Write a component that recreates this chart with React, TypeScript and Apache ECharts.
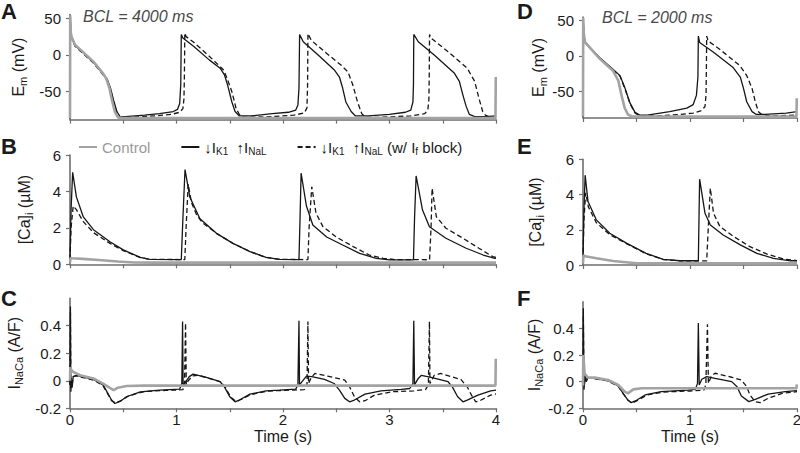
import React, { useEffect, useRef } from 'react';
import * as echarts from 'echarts';

// ---------- labels ----------
const NAMES = ['Control', '↓IK1 ↑INaL', '↓IK1 ↑INaL (w/ If block)'];
const BCL_LABELS = ['BCL = 4000 ms', 'BCL = 2000 ms'];
const PANEL_LETTERS = ['A', 'B', 'C', 'D', 'E', 'F'];
const EM_TICKS = [-50, 0, 50];
const CA_TICKS = [0, 2, 4, 6];
const NCX_TICKS = [-0.2, 0, 0.2, 0.4];
const TIME_LABELS_LONG = [0, 1, 2, 3, 4];
const TIME_LABELS_SHORT = [0, 1, 2];

type P = [number, number][];

// ---------- Panel A : Em (mV), BCL 4000 ms ----------
const A_CTRL: P = [[0, -86], [0.002, 54], [0.008, 30], [0.016, 24], [0.047, 14], [0.1, 7], [0.22, -9], [0.31, -25], [0.34, -32], [0.37, -45], [0.39, -59], [0.42, -77], [0.45, -85], [0.5, -86], [3.995, -86], [3.998, -30]];
const A_SOLID: P = [[0, -86], [0.002, 52], [0.008, 30], [0.016, 23], [0.047, 13], [0.1, 6], [0.22, -10], [0.31, -26], [0.35, -33], [0.38, -45], [0.41, -62], [0.44, -77], [0.47, -84], [0.52, -84], [0.7, -82], [0.84, -80], [0.97, -77], [1.01, -74], [1.03, -66], [1.04, -40], [1.045, 28], [1.06, 23], [1.16, 12], [1.31, -7], [1.41, -18], [1.45, -27], [1.48, -41], [1.52, -64], [1.55, -77], [1.59, -83], [1.7, -83], [1.9, -80], [2.05, -78], [2.12, -75], [2.14, -68], [2.15, -45], [2.156, 28], [2.19, 18], [2.33, 0], [2.48, -20], [2.53, -30], [2.56, -45], [2.59, -64], [2.64, -77], [2.68, -83], [2.8, -83], [3.0, -81], [3.15, -78], [3.2, -75], [3.22, -64], [3.225, -40], [3.228, 28], [3.27, 18], [3.42, 0], [3.61, -25], [3.656, -36], [3.69, -55], [3.72, -70], [3.75, -81], [3.8, -84], [3.9, -84], [4.0, -83]];
const A_DASHED: P = [[0, -86], [0.002, 52], [0.008, 30], [0.016, 22], [0.047, 12], [0.1, 5], [0.22, -11], [0.31, -27], [0.35, -35], [0.38, -48], [0.41, -64], [0.44, -78], [0.47, -85], [0.55, -85], [0.8, -83], [0.95, -81], [1.03, -78], [1.06, -73], [1.07, -60], [1.074, -30], [1.078, 30], [1.09, 25], [1.156, 18], [1.31, -2], [1.44, -20], [1.47, -30], [1.52, -50], [1.56, -73], [1.59, -81], [1.63, -85], [1.9, -84], [2.1, -82], [2.2, -79], [2.225, -72], [2.231, -40], [2.234, 29], [2.266, 20], [2.39, 4.5], [2.547, -14], [2.61, -23], [2.656, -41], [2.7, -64], [2.74, -80], [2.78, -85], [2.9, -85], [3.2, -83], [3.33, -80], [3.36, -75], [3.37, -60], [3.373, -30], [3.376, 28], [3.39, 23], [3.55, 4.5], [3.73, -18], [3.8, -36], [3.84, -59], [3.875, -77], [3.9, -82], [3.95, -85], [4.0, -85]];

// ---------- Panel B : [Ca]i (uM), BCL 4000 ms ----------
const B_CTRL: P = [[0, 0.1], [0.005, 0.35], [0.02, 0.33], [0.12, 0.3], [0.3, 0.22], [0.45, 0.15], [0.6, 0.1], [0.8, 0.09], [4, 0.09]];
const B_SOLID: P = [[0, 0.25], [0.01, 3], [0.025, 5.05], [0.06, 3.7], [0.125, 2.6], [0.22, 1.9], [0.375, 1.24], [0.5, 0.79], [0.66, 0.38], [0.75, 0.27], [1.045, 0.26], [1.06, 2.5], [1.08, 5.2], [1.125, 3.7], [1.22, 2.5], [1.375, 1.7], [1.53, 1.15], [1.69, 0.7], [1.84, 0.38], [1.97, 0.27], [2.15, 0.26], [2.16, 2.5], [2.17, 5.0], [2.22, 3.2], [2.28, 2.16], [2.41, 1.5], [2.56, 1.06], [2.72, 0.6], [2.875, 0.33], [3.0, 0.24], [3.225, 0.24], [3.235, 2.5], [3.25, 4.85], [3.31, 2.98], [3.375, 2.06], [3.53, 1.43], [3.72, 0.88], [3.88, 0.51], [3.99, 0.33], [4.0, 0.32]];
const B_DASHED: P = [[0, 0.25], [0.01, 2], [0.03, 3.2], [0.06, 3.0], [0.125, 2.34], [0.22, 1.74], [0.375, 1.15], [0.5, 0.75], [0.66, 0.37], [0.75, 0.27], [1.078, 0.26], [1.09, 2.0], [1.11, 4.4], [1.14, 3.4], [1.19, 2.7], [1.25, 2.25], [1.375, 1.7], [1.53, 1.15], [1.69, 0.7], [1.84, 0.38], [1.97, 0.27], [2.234, 0.26], [2.245, 2.0], [2.27, 4.26], [2.31, 2.8], [2.375, 2.07], [2.5, 1.5], [2.66, 0.97], [2.81, 0.51], [2.94, 0.33], [3.05, 0.26], [3.376, 0.25], [3.39, 2], [3.4, 4.17], [3.44, 2.61], [3.53, 1.98], [3.69, 1.43], [3.84, 0.88], [3.97, 0.42], [4.0, 0.38]];

// ---------- Panel C : INaCa (A/F), BCL 4000 ms ----------
const C_CTRL: P = [[0, 0], [0.003, 0.1], [0.01, 0.08], [0.03, 0.065], [0.094, 0.04], [0.22, 0.017], [0.31, -0.02], [0.37, -0.05], [0.41, -0.068], [0.45, -0.05], [0.53, -0.038], [0.69, -0.035], [3.995, -0.035], [3.998, 0.16]];
const C_SOLID: P = [[0, -0.03], [0.004, 0.54], [0.008, -0.08], [0.014, 0.0], [0.02, -0.05], [0.03, 0.03], [0.06, 0.04], [0.22, 0.01], [0.31, -0.03], [0.34, -0.07], [0.39, -0.14], [0.42, -0.165], [0.47, -0.15], [0.53, -0.116], [0.66, -0.08], [0.84, -0.068], [1.03, -0.06], [1.05, -0.02], [1.057, 0.43], [1.062, -0.03], [1.075, -0.02], [1.12, 0.03], [1.156, 0.048], [1.28, 0.024], [1.41, -0.007], [1.45, -0.044], [1.5, -0.116], [1.55, -0.153], [1.59, -0.14], [1.69, -0.097], [1.84, -0.073], [1.97, -0.068], [2.12, -0.06], [2.14, -0.03], [2.15, 0.436], [2.155, -0.03], [2.19, 0.005], [2.22, 0.034], [2.27, 0.03], [2.39, 0.01], [2.48, -0.02], [2.53, -0.068], [2.58, -0.128], [2.625, -0.153], [2.67, -0.14], [2.77, -0.097], [2.92, -0.073], [3.11, -0.063], [3.19, -0.056], [3.22, -0.02], [3.228, 0.436], [3.235, -0.03], [3.27, 0.017], [3.3, 0.04], [3.39, 0.024], [3.55, -0.007], [3.59, -0.044], [3.64, -0.116], [3.69, -0.153], [3.73, -0.14], [3.83, -0.104], [3.95, -0.073], [4.0, -0.068]];
const C_DASHED: P = [[0, -0.03], [0.004, 0.5], [0.008, -0.06], [0.014, 0.02], [0.02, -0.03], [0.03, 0.03], [0.06, 0.035], [0.22, 0.005], [0.31, -0.035], [0.34, -0.075], [0.39, -0.145], [0.43, -0.16], [0.48, -0.145], [0.55, -0.11], [0.7, -0.078], [0.9, -0.07], [1.06, -0.065], [1.075, -0.03], [1.085, 0.42], [1.092, -0.03], [1.11, 0.0], [1.15, 0.035], [1.2, 0.04], [1.3, 0.02], [1.42, -0.01], [1.46, -0.05], [1.51, -0.12], [1.56, -0.15], [1.6, -0.138], [1.7, -0.1], [1.85, -0.075], [2.0, -0.07], [2.2, -0.065], [2.225, -0.04], [2.234, 0.43], [2.24, -0.02], [2.266, 0.025], [2.3, 0.053], [2.42, 0.034], [2.58, 0.005], [2.625, -0.044], [2.67, -0.116], [2.72, -0.153], [2.77, -0.145], [2.86, -0.104], [3.02, -0.08], [3.23, -0.073], [3.34, -0.063], [3.365, -0.03], [3.375, 0.43], [3.38, -0.02], [3.42, 0.04], [3.48, 0.053], [3.67, 0.01], [3.73, -0.044], [3.77, -0.104], [3.81, -0.153], [3.86, -0.14], [3.95, -0.104], [4.0, -0.095]];

// ---------- Panel D : Em (mV), BCL 2000 ms ----------
const D_CTRL: P = [[0, -86], [0.002, 54], [0.008, 30], [0.02, 19], [0.16, -4.6], [0.28, -21], [0.33, -35], [0.36, -56], [0.39, -74], [0.42, -83], [0.46, -86], [1.995, -86], [1.998, -60]];
const D_SOLID: P = [[0, -86], [0.002, 52], [0.008, 30], [0.02, 19], [0.16, -3], [0.28, -19], [0.346, -28], [0.393, -46], [0.44, -67], [0.486, -80], [0.53, -84], [0.6, -84], [0.81, -79], [0.97, -74], [1.03, -69], [1.06, -56], [1.074, -30], [1.078, 28], [1.09, 19], [1.22, 5], [1.4, -16], [1.47, -30], [1.5, -46], [1.53, -65], [1.58, -79], [1.62, -83], [1.7, -83], [1.9, -81], [2.0, -79]];
const D_DASHED: P = [[0, -86], [0.002, 52], [0.008, 30], [0.02, 19], [0.16, -4], [0.28, -20], [0.346, -29], [0.393, -47], [0.44, -68], [0.486, -81], [0.53, -85], [0.7, -85], [0.9, -83], [1.03, -81], [1.1, -78], [1.14, -72], [1.15, -55], [1.153, -20], [1.156, 28], [1.17, 21], [1.28, 9], [1.467, -14], [1.53, -28], [1.58, -46], [1.61, -65], [1.64, -79], [1.67, -83], [1.75, -85], [2.0, -84]];

// ---------- Panel E : [Ca]i (uM), BCL 2000 ms ----------
const E_CTRL: P = [[0, 0.1], [0.004, 0.55], [0.02, 0.5], [0.125, 0.38], [0.28, 0.23], [0.5, 0.1], [0.7, 0.09], [2, 0.09]];
const E_SOLID: P = [[0, 0.25], [0.008, 3], [0.02, 5.1], [0.047, 3.6], [0.125, 2.56], [0.25, 1.8], [0.41, 1.23], [0.59, 0.66], [0.75, 0.32], [0.906, 0.24], [1.078, 0.24], [1.085, 3], [1.09, 4.87], [1.14, 2.94], [1.19, 2.27], [1.31, 1.7], [1.47, 1.14], [1.625, 0.66], [1.78, 0.38], [1.94, 0.24], [2, 0.24]];
const E_DASHED: P = [[0, 0.25], [0.008, 2.5], [0.025, 4.1], [0.05, 3.3], [0.125, 2.4], [0.25, 1.72], [0.41, 1.2], [0.59, 0.64], [0.75, 0.31], [0.906, 0.24], [1.156, 0.23], [1.17, 2], [1.19, 4.36], [1.22, 2.94], [1.28, 2.18], [1.41, 1.61], [1.56, 1.04], [1.72, 0.62], [1.875, 0.34], [2, 0.25]];

// ---------- Panel F : INaCa (A/F), BCL 2000 ms ----------
const F_CTRL: P = [[0, -0.03], [0.003, 0.2], [0.015, 0.06], [0.047, 0.03], [0.11, 0.03], [0.234, 0.013], [0.33, -0.025], [0.39, -0.075], [0.42, -0.088], [0.47, -0.058], [0.55, -0.05], [1.995, -0.05], [1.998, -0.02]];
const F_SOLID: P = [[0, -0.03], [0.003, 0.55], [0.009, -0.06], [0.022, 0.05], [0.03, 0.0], [0.047, 0.03], [0.234, 0.008], [0.33, -0.033], [0.375, -0.088], [0.42, -0.138], [0.45, -0.158], [0.5, -0.14], [0.58, -0.1], [0.73, -0.075], [0.98, -0.063], [1.05, -0.058], [1.07, -0.013], [1.078, 0.44], [1.086, -0.025], [1.11, 0.018], [1.156, 0.038], [1.234, 0.025], [1.39, 0.0], [1.44, -0.038], [1.48, -0.108], [1.55, -0.15], [1.61, -0.133], [1.73, -0.093], [1.89, -0.075], [2, -0.068]];
const F_DASHED: P = [[0, -0.03], [0.003, 0.5], [0.009, -0.04], [0.022, 0.04], [0.03, 0.01], [0.047, 0.03], [0.234, 0.005], [0.33, -0.036], [0.375, -0.09], [0.42, -0.14], [0.46, -0.16], [0.51, -0.14], [0.6, -0.1], [0.75, -0.078], [1.0, -0.07], [1.13, -0.063], [1.148, -0.025], [1.163, 0.43], [1.172, -0.013], [1.2, 0.043], [1.234, 0.063], [1.39, 0.033], [1.48, 0.013], [1.53, -0.038], [1.56, -0.1], [1.61, -0.15], [1.656, -0.158], [1.73, -0.125], [1.86, -0.088], [2, -0.075]];

const PANEL_DATA: P[][] = [
  [A_CTRL, A_SOLID, A_DASHED],
  [B_CTRL, B_SOLID, B_DASHED],
  [C_CTRL, C_SOLID, C_DASHED],
  [D_CTRL, D_SOLID, D_DASHED],
  [E_CTRL, E_SOLID, E_DASHED],
  [F_CTRL, F_SOLID, F_DASHED],
];

const FONT = '"Liberation Sans", Arial, Helvetica, sans-serif';
const AXIS_COLOR = '#6e6e6e';
const TEXT_COLOR = '#1a1a1a';
const GREY = '#a3a3a3';
const BLACK = '#161616';

const SUB_RICH = {
  n: { fontSize: 16, lineHeight: 20, color: TEXT_COLOR, fontFamily: FONT, fontWeight: 'normal' },
  s: { fontSize: 11, lineHeight: 11, verticalAlign: 'bottom', color: TEXT_COLOR, fontFamily: FONT, fontWeight: 'normal' },
};

// layout (pixels)
const GRIDS = [
  { left: 70, top: 14.6, width: 426, height: 105 },
  { left: 70, top: 155, width: 426, height: 109.3 },
  { left: 70, top: 298.2, width: 426, height: 110.1 },
  { left: 583, top: 17, width: 214, height: 101 },
  { left: 583, top: 159.3, width: 214, height: 105.7 },
  { left: 583, top: 301.7, width: 214, height: 106.6 },
];

const Y_CFG = [
  { min: -88, max: 55, ticks: EM_TICKS, name: '{n|E}{s|m}{n| (mV)}', gap: 36 },
  { min: 0, max: 6, ticks: CA_TICKS, name: '{n|[Ca]}{s|i}{n| (µM)}', gap: 36 },
  { min: -0.2, max: 0.6, ticks: NCX_TICKS, name: '{n|I}{s|NaCa}{n| (A/F)}', gap: 36 },
  { min: -88, max: 55, ticks: EM_TICKS, name: '{n|E}{s|m}{n| (mV)}', gap: 31 },
  { min: 0, max: 6, ticks: CA_TICKS, name: '{n|[Ca]}{s|i}{n| (µM)}', gap: 38 },
  { min: -0.2, max: 0.6, ticks: NCX_TICKS, name: '{n|I}{s|NaCa}{n| (A/F)}', gap: 33 },
];

export default function App() {
  const ref = useRef<HTMLDivElement>(null);
  useEffect(() => {
    if (!ref.current) return;
    const chart = echarts.init(ref.current, null, { renderer: 'svg' });

    const grid = GRIDS.map((g) => ({ ...g, containLabel: false, outerBoundsMode: 'none' }));

    const xAxis = GRIDS.map((_, i) => {
      const long = i < 3;
      const bottomRow = i === 2 || i === 5;
      return {
        type: 'value',
        gridIndex: i,
        min: 0,
        max: long ? 4 : 2,
        interval: 0.5,
        splitLine: { show: false },
        axisLine: { show: true, onZero: false, lineStyle: { color: AXIS_COLOR, width: 1.6 } },
        axisTick: { show: true, inside: false, length: 4, lineStyle: { color: AXIS_COLOR, width: 1.2 } },
        axisLabel: {
          show: bottomRow,
          customValues: long ? TIME_LABELS_LONG : TIME_LABELS_SHORT,
          fontSize: 15,
          color: TEXT_COLOR,
          fontFamily: FONT,
          fontWeight: 'normal',
          margin: 4,
        },
        name: bottomRow ? 'Time (s)' : '',
        nameLocation: 'middle',
        nameGap: 17,
        nameTextStyle: { fontSize: 16, color: TEXT_COLOR, fontFamily: FONT, fontWeight: 'normal', verticalAlign: 'top' },
      };
    });

    const yAxis = Y_CFG.map((c, i) => ({
      type: 'value',
      gridIndex: i,
      min: c.min,
      max: c.max,
      splitLine: { show: false },
      axisLine: { show: true, onZero: false, lineStyle: { color: AXIS_COLOR, width: 1.6 } },
      axisTick: { show: true, inside: false, length: 4, customValues: c.ticks, lineStyle: { color: AXIS_COLOR, width: 1.2 } },
      axisLabel: {
        customValues: c.ticks,
        fontSize: 15,
        color: TEXT_COLOR,
        fontFamily: FONT,
        fontWeight: 'normal',
        margin: 9,
        formatter: (v: number) => String(Math.round(v * 10) / 10),
      },
      name: c.name,
      nameLocation: 'middle',
      nameRotate: 90,
      nameGap: c.gap,
      nameTextStyle: { rich: SUB_RICH, fontSize: 16, color: TEXT_COLOR, fontFamily: FONT, fontWeight: 'normal' },
    }));

    const series: any[] = [];
    PANEL_DATA.forEach((trio, i) => {
      series.push({
        type: 'line', name: NAMES[2], data: trio[2], xAxisIndex: i, yAxisIndex: i,
        symbol: 'none', showSymbol: false, silent: true, z: 2,
        lineStyle: { color: BLACK, width: 1.3, type: [5, 3] }, itemStyle: { color: BLACK },
      });
      series.push({
        type: 'line', name: NAMES[1], data: trio[1], xAxisIndex: i, yAxisIndex: i,
        symbol: 'none', showSymbol: false, silent: true, z: 3,
        lineStyle: { color: BLACK, width: 1.3, type: 'solid' }, itemStyle: { color: BLACK },
      });
      series.push({
        type: 'line', name: NAMES[0], data: trio[0], xAxisIndex: i, yAxisIndex: i,
        symbol: 'none', showSymbol: false, silent: true, z: 4,
        lineStyle: { color: GREY, width: 2.6 }, itemStyle: { color: GREY },
      });
    });

    const legendRich = {
      s: { fontSize: 10, lineHeight: 10, verticalAlign: 'bottom', fontFamily: FONT, fontWeight: 'normal' },
    };

    const letterTexts = PANEL_LETTERS.map((L, i) => {
      const pos = [[1, 12], [1, 147], [1, 299], [517, 12], [517, 147], [517, 299]][i];
      return {
        type: 'text', left: pos[0], top: pos[1] - 12,
        style: { text: L, fontSize: 22, fontWeight: 'bold', fill: '#1a1a1a', fontFamily: FONT },
      };
    });

    chart.setOption({
      animation: false,
      backgroundColor: '#ffffff',
      textStyle: { fontFamily: FONT, fontWeight: 'normal' },
      grid,
      xAxis,
      yAxis,
      legend: {
        left: 78,
        top: 138,
        itemWidth: 18,
        itemHeight: 10,
        itemGap: 30,
        padding: 0,
        selectedMode: false,
        itemStyle: { opacity: 0, borderWidth: 0 },
        data: [
          { name: NAMES[0], textStyle: { color: '#9a9a9a' } },
          { name: NAMES[1] },
          { name: NAMES[2] },
        ],
        formatter: (name: string) => {
          if (name === NAMES[0]) return name;
          if (name === NAMES[1]) return '↓I{s|K1}  ↑I{s|NaL}';
          return '↓I{s|K1}  ↑I{s|NaL} (w/ I{s|f} block)';
        },
        textStyle: { fontSize: 15, lineHeight: 18, color: TEXT_COLOR, fontFamily: FONT, fontWeight: 'normal', rich: legendRich },
      },
      graphic: [
        ...letterTexts,
        {
          type: 'text', left: 83, top: 8,
          style: { text: BCL_LABELS[0], fontSize: 16, fontStyle: 'italic', fill: '#4a4a4a', fontFamily: FONT },
        },
        {
          type: 'text', left: 602, top: 9,
          style: { text: BCL_LABELS[1], fontSize: 16, fontStyle: 'italic', fill: '#4a4a4a', fontFamily: FONT },
        },
      ],
      series,
    });

    return () => chart.dispose();
  }, []);

  return (
    <div
      ref={ref}
      style={{ position: 'fixed', left: 0, top: 0, width: 800, height: 453, background: '#fff' }}
    />
  );
}
